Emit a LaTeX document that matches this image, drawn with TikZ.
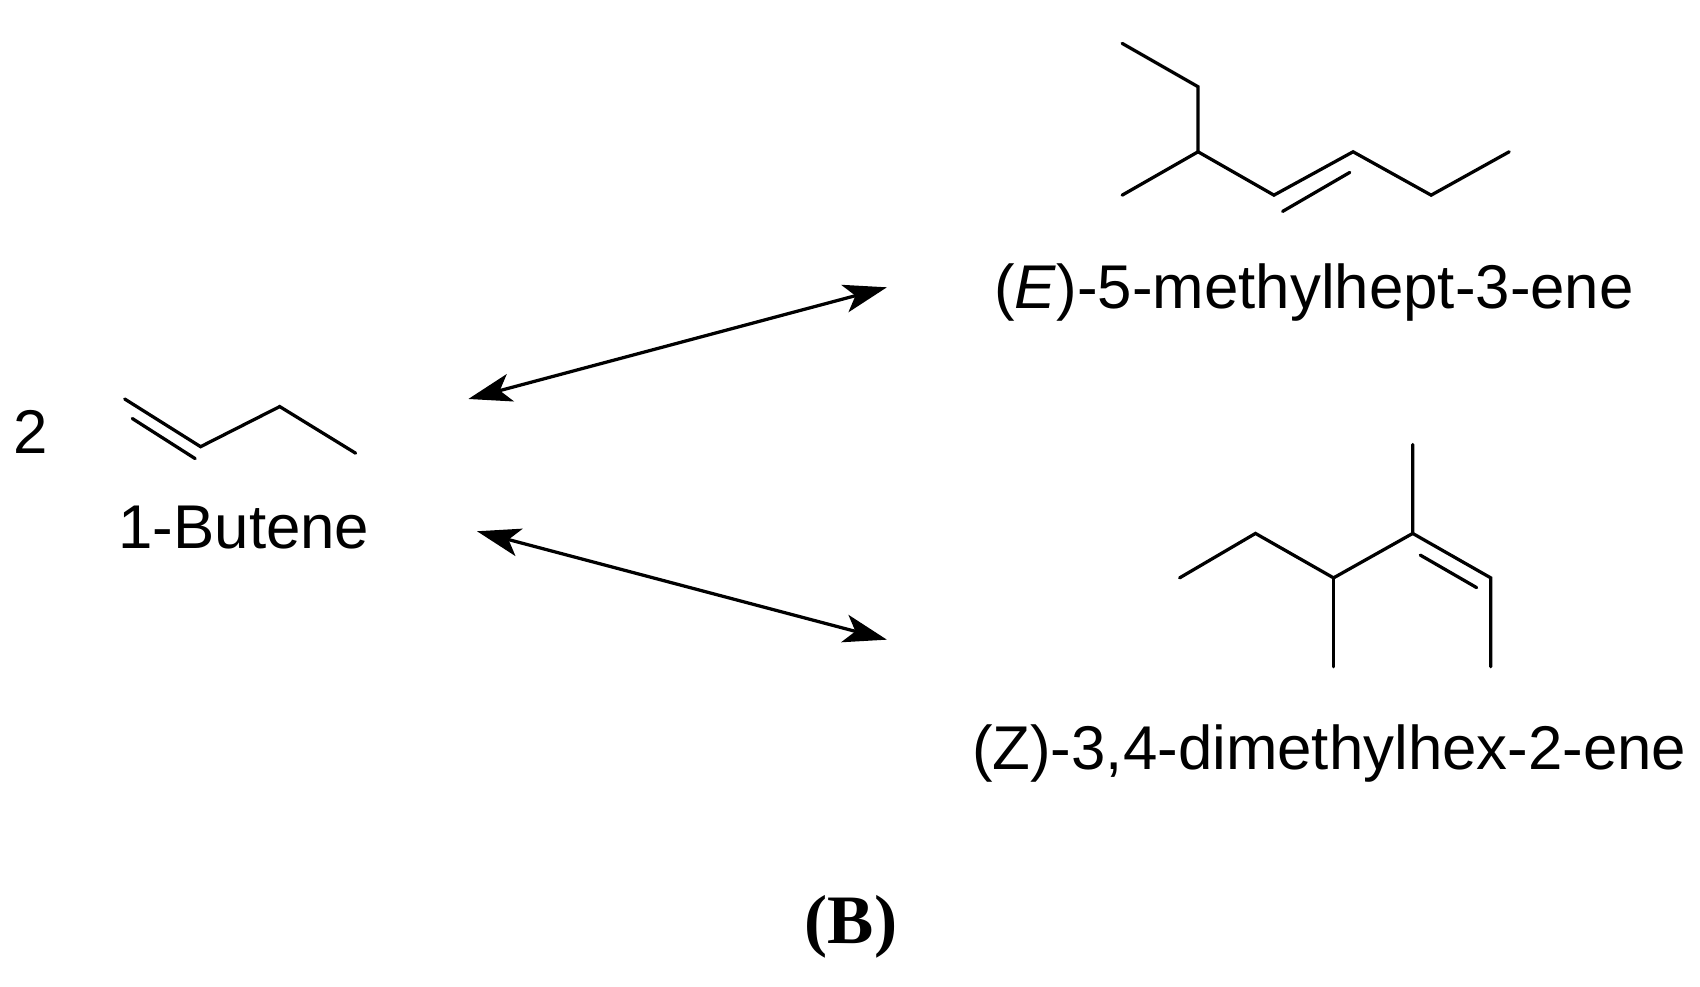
\documentclass[tikz,border=0pt]{standalone}
\usepackage{fontspec}
\setmainfont{Liberation Sans}
\newfontfamily\serifB{Liberation Serif}
\usetikzlibrary{arrows.meta}
\begin{document}
\begin{tikzpicture}[x=1pt,y=-1pt,
  bond/.style={line width=3pt,line cap=round,line join=miter},
  rx/.style={line width=3pt,{Stealth[length=40pt,width=26pt,inset=10pt]}-{Stealth[length=40pt,width=26pt,inset=10pt]}},
  lbl/.style={font=\fontsize{57}{62}\selectfont,inner sep=0pt}]
\useasboundingbox (0,0) rectangle (1568,910);
% 1-butene
\node[lbl] (two) at (28,398) {2};
\draw[bond] (115,368) -- (185,412) -- (258,375) -- (328,418);
\draw[bond] (122,386) -- (180,423);
\node[lbl] (but) at (225,487) {1-Butene};
% E product
\draw[bond] (1035,40) -- (1105,80) -- (1105,140) -- (1035,180);
\draw[bond] (1105,140) -- (1175,180) -- (1248,140) -- (1320,180) -- (1392,140);
\draw[bond] (1183,195) -- (1245,159);
\node[lbl] (E) at (1212,270) {(\textit{E})-5-methylhept-3-ene};
% Z product
\draw[bond] (1088,533) -- (1158,492) -- (1230,533) -- (1303,492) -- (1303,410);
\draw[bond] (1303,492) -- (1375,533) -- (1375,615);
\draw[bond] (1230,533) -- (1230,615);
\draw[bond] (1310,512) -- (1362,542);
\node[lbl] (Z) at (1226,695) {(Z)-3,4-dimethylhex-2-ene};
% arrows
\coordinate (a1) at (432,368); \coordinate (a2) at (818,265);
\coordinate (b1) at (440,490); \coordinate (b2) at (818,590);
\draw[rx] (a1) -- (a2);
\draw[rx] (b1) -- (b2);
\node[inner sep=0pt,font=\serifB\bfseries\fontsize{64}{68}\selectfont] (B) at (785,855) {(B)};
\end{tikzpicture}
\end{document}
